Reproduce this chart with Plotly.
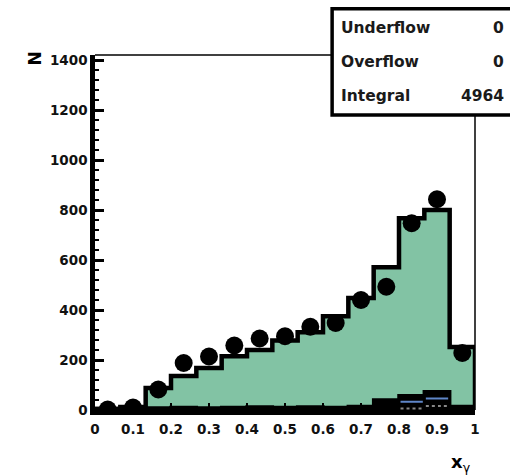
import numpy as np
import plotly.graph_objects as go

# 15 equal bins of x_gamma between 0 and 1
bin_edges = np.linspace(0.0, 1.0, 16)
bin_centers = 0.5 * (bin_edges[:-1] + bin_edges[1:])

# measured events per bin
data_counts = [2, 10, 82, 188, 214, 258, 286, 295, 333, 348, 440, 493, 747, 843, 228]
# simulated total (filled histogram)
mc_counts = [4, 12, 88, 136, 168, 215, 240, 278, 311, 375, 448, 571, 767, 800, 252]
# background component (black)
bkg_counts = [6, 6, 8, 10, 8, 10, 12, 10, 12, 10, 14, 40, 57, 73, 14]
# extra components (only populated at high x_gamma)
comp_blue = [0, 0, 0, 0, 0, 0, 0, 0, 0, 0, 0, 0, 33, 46, 0]
comp_gray = [0, 0, 0, 0, 0, 0, 0, 0, 0, 0, 0, 0, 6, 16, 0]

stats_labels = ["Underflow", "Overflow", "Integral"]
stats_values = ["0", "0", "4964"]

GREEN = "#82c3a4"
FONT = "DejaVu Sans"


def step_outline(values):
    xs = [bin_edges[0]] + list(bin_edges[:-1]) + [bin_edges[-1], bin_edges[-1]]
    ys = [0] + list(values) + [values[-1], 0]
    return xs, ys


def segments(values):
    xs, ys = [], []
    for lo, hi, v in zip(bin_edges[:-1], bin_edges[1:], values):
        if v > 0:
            xs += [lo + 0.004, hi - 0.004, None]
            ys += [v, v, None]
    return xs, ys


fig = go.Figure()

x, y = step_outline(mc_counts)
fig.add_trace(go.Scatter(x=x, y=y, mode="lines", line=dict(shape="hv", color="black", width=4.5),
                         fill="tozeroy", fillcolor=GREEN, hoverinfo="skip"))

x, y = step_outline(bkg_counts)
fig.add_trace(go.Scatter(x=x, y=y, mode="lines", line=dict(shape="hv", color="black", width=3.5),
                         fill="tozeroy", fillcolor="black", hoverinfo="skip"))

x, y = segments(comp_blue)
fig.add_trace(go.Scatter(x=x, y=y, mode="lines", line=dict(color="#5f86c8", width=2), hoverinfo="skip"))

x, y = segments(comp_gray)
fig.add_trace(go.Scatter(x=x, y=y, mode="lines", line=dict(color="#888888", width=2, dash="dot"),
                         hoverinfo="skip"))

fig.add_trace(go.Scatter(x=bin_centers, y=data_counts, mode="markers",
                         marker=dict(symbol="circle", size=18, color="black")))

tick_font = dict(family=FONT, size=13.5, color="#111111", weight="bold")

fig.update_xaxes(range=[0, 1], dtick=0.1, showgrid=False, zeroline=False,
                 showline=True, linewidth=4.5, linecolor="black",
                 ticks="inside", ticklen=7, tickwidth=2, tickcolor="black",
                 tickfont=tick_font, ticklabelstandoff=3)
fig.update_yaxes(range=[0, 1420], dtick=200, showgrid=False, zeroline=False,
                 showline=True, linewidth=4.5, linecolor="black",
                 ticks="inside", ticklen=9, tickwidth=3, tickcolor="black",
                 minor=dict(dtick=40, ticks="inside", ticklen=4, tickwidth=2, tickcolor="black"),
                 tickfont=tick_font, ticklabelstandoff=0)

shapes = [
    # frame top and right edges
    dict(type="line", xref="paper", yref="paper", x0=0, x1=0.63, y0=1, y1=1,
         line=dict(color="black", width=1.5)),
    dict(type="line", xref="paper", yref="paper", x0=1, x1=1, y0=0, y1=0.84,
         line=dict(color="black", width=1.5)),
    # statistics box
    dict(type="rect", xref="paper", yref="paper", x0=0.624, x1=1.13, y0=0.831, y1=1.13,
         line=dict(color="black", width=3.5), fillcolor="white"),
]

annotations = []
stat_rows_y = [1.076, 0.980, 0.885]
for label, value, yy in zip(stats_labels, stats_values, stat_rows_y):
    annotations.append(dict(text=label, xref="paper", yref="paper", x=0.642, y=yy,
                            xanchor="left", yanchor="middle", showarrow=False,
                            font=dict(family=FONT, size=15.5, color="#1a1a1a", weight="bold")))
    annotations.append(dict(text=value, xref="paper", yref="paper", x=1.082, y=yy,
                            xanchor="right", yanchor="middle", showarrow=False,
                            font=dict(family=FONT, size=15.5, color="#1a1a1a", weight="bold")))

annotations.append(dict(text="N", xref="paper", yref="paper", x=-0.158, y=0.99,
                        textangle=-90, xanchor="center", yanchor="middle", showarrow=False,
                        font=dict(family=FONT, size=17, color="black", weight="bold")))
annotations.append(dict(text="<b>x</b><sub>γ</sub>", xref="paper", yref="paper", x=0.963, y=-0.15,
                        xanchor="center", yanchor="middle", showarrow=False,
                        font=dict(family=FONT, size=18, color="black")))

fig.update_layout(width=510, height=476, margin=dict(l=95, r=35, t=55, b=66),
                  paper_bgcolor="white", plot_bgcolor="white", showlegend=False,
                  shapes=shapes, annotations=annotations)

fig.write_html("out.html")
